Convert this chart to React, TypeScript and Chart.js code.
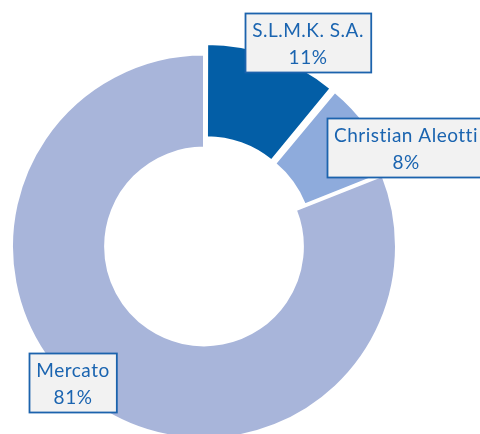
import React, { useEffect, useRef } from "react";
import { Chart, registerables } from "chart.js";

Chart.register(...registerables);

// ---- data ----
const categories = ["S.L.M.K. S.A.", "Christian Aleotti", "Mercato"];
const shares = [11, 8, 81];
const percentLabels = ["11%", "8%", "81%"];

// ---- styles ----
const sliceColors = ["#035ea6", "#8eabdc", "#a8b5da"];
const sliceOffsets = [32, 28, 0];
const labelCenters: [number, number][] = [
  [308, 42],
  [406, 147],
  [73, 382.5],
];
const LABEL_FONT = "19px Lato";
const LABEL_COLOR = "#1a64b0";
const BOX_FILL = "#f2f2f2";
const BOX_STROKE = "#1c63ad";

const boxLabels = {
  id: "boxLabels",
  afterDatasetsDraw(chart: any) {
    const ctx: CanvasRenderingContext2D = chart.ctx;
    ctx.save();
    ctx.font = LABEL_FONT;
    (ctx as any).letterSpacing = "0.5px";
    ctx.textAlign = "center";
    ctx.textBaseline = "middle";
    categories.forEach((name, i) => {
      const [cx, cy] = labelCenters[i];
      const w1 = ctx.measureText(name).width;
      const w2 = ctx.measureText(percentLabels[i]).width;
      const w = Math.max(w1, w2) + 14;
      const h = 59;
      const x = Math.round(cx - w / 2) + 0.5;
      const y = Math.round(cy - h / 2) + 0.5;
      ctx.fillStyle = BOX_FILL;
      ctx.fillRect(x, y, w, h);
      ctx.lineWidth = 1.8;
      ctx.strokeStyle = BOX_STROKE;
      ctx.strokeRect(x, y, w, h);
      ctx.fillStyle = LABEL_COLOR;
      ctx.fillText(name, cx, y + 17.5);
      ctx.fillText(percentLabels[i], cx, y + 44);
    });
    ctx.restore();
  },
};

export default function App() {
  const ref = useRef<HTMLCanvasElement | null>(null);
  useEffect(() => {
    if (!ref.current) return;
    const chart = new Chart(ref.current, {
      type: "doughnut",
      data: {
        labels: categories,
        datasets: [
          {
            data: shares,
            backgroundColor: sliceColors,
            borderColor: "#ffffff",
            borderWidth: 2,
            offset: sliceOffsets,
            clip: false,
          } as any,
        ],
      },
      options: {
        responsive: false,
        animation: false,
        radius: 192,
        cutout: "51.5%",
        layout: { padding: { left: 0, right: 72, top: 59, bottom: 0 } },
        plugins: {
          legend: { display: false },
          tooltip: { enabled: false },
        },
      } as any,
      plugins: [boxLabels],
    });
    return () => chart.destroy();
  }, []);
  return (
    <div style={{ position: "fixed", left: 0, top: 0, width: 480, height: 434, background: "#fff" }}>
      <canvas ref={ref} width={480} height={434} style={{ display: "block" }} />
    </div>
  );
}
